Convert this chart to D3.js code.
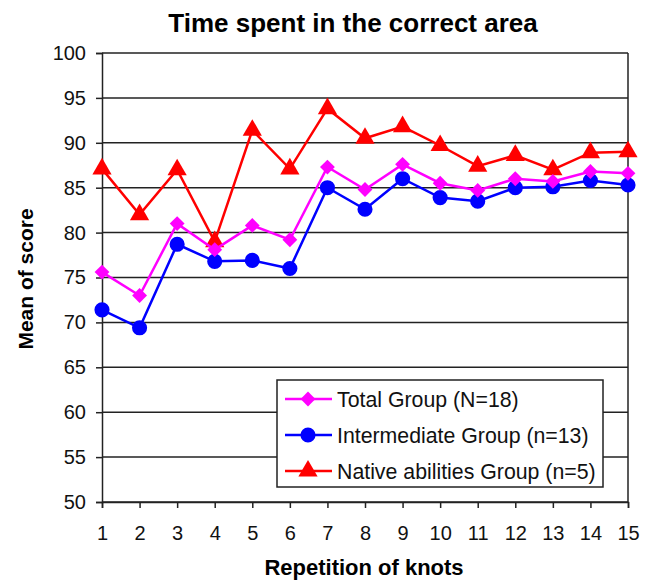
<!DOCTYPE html>
<html lang="en">
<head>
    <meta charset="UTF-8">
    <title>Time spent in the correct area</title>
    <script src="https://cdnjs.cloudflare.com/ajax/libs/d3/7.8.2/d3.min.js"></script>
    <style>
        body{ margin: 0; background: #fff; }
        svg{ display: block; font-family: Arial, "Liberation Sans", sans-serif; }
    </style>
</head>
<body>
    <div class="container"></div>
    <script>
        // data
        let repetitions = [1,2,3,4,5,6,7,8,9,10,11,12,13,14,15];
        let totalGroup = [75.6,73.0,81.0,78.1,80.8,79.2,87.3,84.8,87.6,85.5,84.7,86.0,85.7,86.8,86.6];
        let intermediateGroup = [71.4,69.4,78.7,76.8,76.9,76.0,85.0,82.6,86.0,83.9,83.5,85.0,85.1,85.8,85.3];
        let nativeGroup = [87.1,82.0,87.0,79.0,91.4,87.1,93.8,90.5,91.8,89.7,87.4,88.6,87.0,88.9,89.0];
        let yTicks = [50,55,60,65,70,75,80,85,90,95,100];
        let seriesNames = ['Total Group (N=18)', 'Intermediate Group (n=13)', 'Native abilities Group (n=5)'];

        let width = 649;
        let height = 584;
        let plotLeft = 102, plotRight = 628, plotTop = 53, plotBottom = 502;

        let svg = d3.select('.container').append('svg')
            .attr('width', width).attr('height', height);

        let xScale = d3.scalePoint().domain(repetitions).range([plotLeft, plotRight]);
        let yScale = d3.scaleLinear().domain([50, 100]).range([plotBottom, plotTop]);

        // gridlines
        svg.append('g').selectAll('line')
            .data(yTicks)
            .enter().append('line')
            .attr('x1', plotLeft).attr('x2', plotRight)
            .attr('y1', d => yScale(d)).attr('y2', d => yScale(d))
            .attr('stroke', '#222').attr('stroke-width', 1.5);

        // right border
        svg.append('line')
            .attr('x1', plotRight).attr('x2', plotRight).attr('y1', plotTop).attr('y2', plotBottom)
            .attr('stroke', '#222').attr('stroke-width', 1.5);

        let yAxis = d3.axisLeft(yScale).tickValues(yTicks).tickSize(6).tickPadding(10);
        let gy = svg.append('g').attr('transform', `translate(${plotLeft},0)`).call(yAxis);
        let xAxis = d3.axisBottom(xScale).tickSize(6).tickPadding(18);
        let gx = svg.append('g').attr('transform', `translate(0,${plotBottom})`).call(xAxis);

        [gx, gy].forEach(g => {
            g.select('.domain').attr('stroke', '#222').attr('stroke-width', 1.5);
            g.selectAll('.tick line').attr('stroke', '#222').attr('stroke-width', 1.5);
            g.selectAll('.tick text').attr('font-size', 20).attr('fill', '#111')
                .attr('font-family', 'Arial, "Liberation Sans", sans-serif');
        });

        let series = [
            {name: seriesNames[0], values: totalGroup, color: '#ff00ff', symbol: 'diamond'},
            {name: seriesNames[1], values: intermediateGroup, color: '#0000ff', symbol: 'circle'},
            {name: seriesNames[2], values: nativeGroup, color: '#ff0000', symbol: 'triangle'}
        ];

        const markerPath = (s) => {
            if (s === 'diamond') return d3.symbol().type(d3.symbolSquare).size(110)();
            if (s === 'circle') return d3.symbol().type(d3.symbolCircle).size(180)();
            return d3.symbol().type(d3.symbolTriangle).size(160)();
        };

        let line = d3.line().x((d, i) => xScale(repetitions[i])).y(d => yScale(d));

        // red behind, magenta on top
        [series[2], series[1], series[0]].forEach(s => {
            svg.append('path').datum(s.values)
                .attr('d', line).attr('fill', 'none')
                .attr('stroke', s.color).attr('stroke-width', 2.5);
            svg.append('g').selectAll('path')
                .data(s.values)
                .enter().append('path')
                .attr('d', markerPath(s.symbol))
                .attr('fill', s.color)
                .attr('transform', (d, i) => `translate(${xScale(repetitions[i])},${yScale(d)})` + (s.symbol === 'diamond' ? ' rotate(45)' : ''));
        });

        // legend
        let legend = svg.append('g');
        legend.append('rect')
            .attr('x', 277).attr('y', 380).attr('width', 326).attr('height', 107)
            .attr('fill', '#fff').attr('stroke', '#222').attr('stroke-width', 1.5);
        let legendY = [399, 435, 471];
        series.forEach((s, i) => {
            legend.append('line')
                .attr('x1', 285).attr('x2', 332)
                .attr('y1', legendY[i]).attr('y2', legendY[i])
                .attr('stroke', s.color).attr('stroke-width', 2.5);
            legend.append('path')
                .attr('d', markerPath(s.symbol))
                .attr('fill', s.color)
                .attr('transform', `translate(308,${legendY[i]})` + (s.symbol === 'diamond' ? ' rotate(45)' : ''));
            legend.append('text')
                .attr('x', 337).attr('y', legendY[i] + 7.5)
                .attr('font-size', 21.3).attr('fill', '#111')
                .text(s.name);
        });

        // titles
        svg.append('text')
            .attr('x', 353).attr('y', 32)
            .attr('text-anchor', 'middle')
            .attr('font-size', 26).attr('font-weight', 'bold')
            .text('Time spent in the correct area');

        svg.append('text')
            .attr('x', 364).attr('y', 575)
            .attr('text-anchor', 'middle')
            .attr('font-size', 22).attr('font-weight', 'bold')
            .text('Repetition of knots');

        svg.append('text')
            .attr('transform', 'translate(33,279) rotate(-90)')
            .attr('text-anchor', 'middle')
            .attr('font-size', 21).attr('font-weight', 'bold')
            .text('Mean of score');
    </script>
</body>
</html>
